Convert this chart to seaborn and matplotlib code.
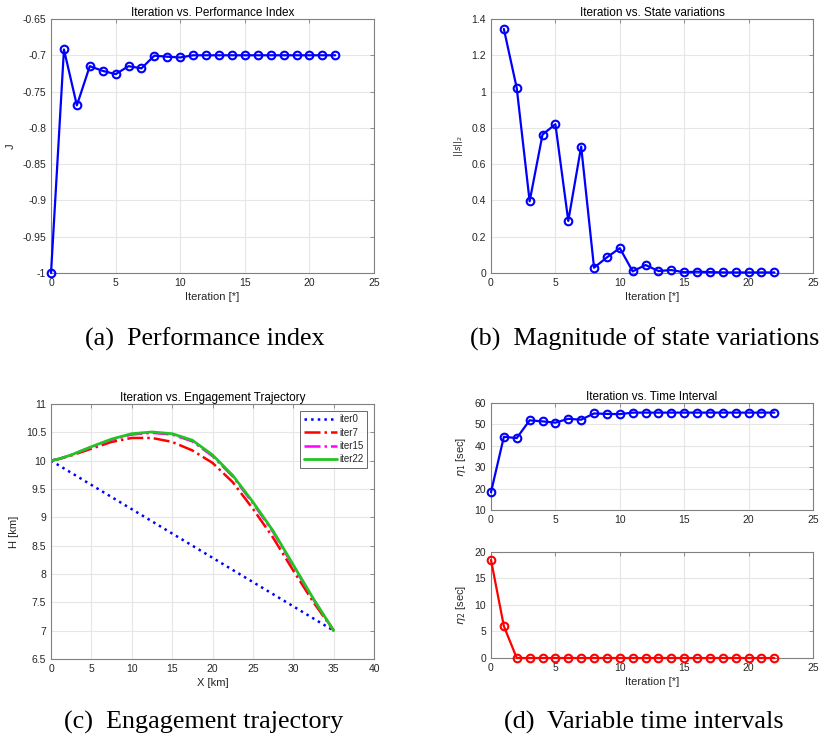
import numpy as np
import pandas as pd
import seaborn as sns
import matplotlib.pyplot as plt
from matplotlib.ticker import FuncFormatter

# ---- data ----
iters = list(range(23))
perf_J = [-1.0, -0.692, -0.769, -0.715, -0.7215, -0.726, -0.715, -0.718, -0.7005,
          -0.702, -0.703, -0.700, -0.700, -0.700, -0.700, -0.700, -0.700, -0.700,
          -0.700, -0.700, -0.700, -0.700, -0.700]

state_iters = list(range(1, 23))
state_norm = [1.345, 1.019, 0.395, 0.763, 0.820, 0.287, 0.697, 0.029, 0.086, 0.137,
              0.009, 0.044, 0.011, 0.016, 0.004, 0.007, 0.005, 0.003, 0.003, 0.003,
              0.003, 0.003]

traj_x = [0, 1, 2.5, 5, 7.5, 10, 12.5, 15, 17.5, 20, 22.5, 25, 27.5, 30, 32.5, 35]
h_iter0 = [10.0, 9.914, 9.786, 9.571, 9.357, 9.143, 8.929, 8.714, 8.5, 8.286, 8.071,
           7.857, 7.643, 7.429, 7.214, 7.0]
h_iter7 = [10.0, 10.03, 10.09, 10.21, 10.33, 10.40, 10.40, 10.33, 10.18, 9.96, 9.62,
           9.15, 8.64, 8.06, 7.50, 7.0]
h_iter15 = [10.0, 10.03, 10.10, 10.24, 10.37, 10.46, 10.49, 10.46, 10.34, 10.08, 9.72,
            9.25, 8.74, 8.14, 7.55, 7.0]
h_iter22 = [10.0, 10.03, 10.10, 10.245, 10.38, 10.475, 10.505, 10.475, 10.36, 10.10,
            9.74, 9.27, 8.76, 8.16, 7.56, 7.0]

eta1 = [18.3, 44.2, 43.6, 51.9, 51.4, 50.8, 52.6, 52.2, 55.1, 54.9, 54.8, 55.5, 55.5,
        55.5, 55.5, 55.5, 55.5, 55.5, 55.5, 55.5, 55.5, 55.5, 55.5]
eta2 = [18.5, 6.0] + [0.0] * 21

# ---- style ----
sns.set_theme(style="whitegrid")
plt.rcParams['font.family'] = ['Liberation Sans', 'DejaVu Sans']
plt.rcParams['mathtext.fontset'] = 'dejavusans'

TXT = '#262626'
fig = plt.figure(figsize=(8.19, 7.42), dpi=100)
fig.patch.set_facecolor('white')


def matlab_axes(rect):
    ax = fig.add_axes(rect)
    ax.set_facecolor('white')
    for s in ax.spines.values():
        s.set_edgecolor('#808080')
        s.set_linewidth(0.8)
    ax.grid(True, color='#e6e6e6', linewidth=0.8)
    ax.tick_params(direction='in', length=3, width=0.6, top=True, right=True,
                   labelsize=7.5, labelcolor=TXT, color='#808080', pad=3.5)
    ax.xaxis.set_major_formatter(FuncFormatter(lambda v, _: f"{v:g}"))
    ax.yaxis.set_major_formatter(FuncFormatter(lambda v, _: f"{v:g}"))
    return ax


def it_line(ax, x, y, color):
    df = pd.DataFrame({"x": x, "y": y})
    sns.lineplot(data=df, x="x", y="y", ax=ax, color=color, linewidth=1.6,
                 marker="o", markersize=5.5, markerfacecolor='none',
                 markeredgecolor=color, markeredgewidth=1.5, clip_on=False,
                 zorder=5)
    ax.set_xlabel("")
    ax.set_ylabel("")


lab = dict(fontsize=8, color=TXT)
ttl = dict(fontsize=8.5, color='black', pad=2)

# (a) performance index
ax = matlab_axes([0.0623, 0.6321, 0.3944, 0.3423])
it_line(ax, iters, perf_J, 'blue')
ax.set_xlim(0, 25)
ax.set_ylim(-1, -0.65)
ax.set_xticks(range(0, 26, 5))
ax.set_yticks(np.arange(-1, -0.64, 0.05))
ax.set_xlabel("Iteration [*]", labelpad=3, **lab)
ax.set_ylabel("J", labelpad=5, **lab)
ax.set_title("Iteration vs. Performance Index", **ttl)

# (b) state variations
ax = matlab_axes([0.5995, 0.6321, 0.3932, 0.3423])
it_line(ax, state_iters, state_norm, 'blue')
ax.set_xlim(0, 25)
ax.set_ylim(0, 1.4)
ax.set_xticks(range(0, 26, 5))
ax.set_yticks(np.arange(0, 1.41, 0.2))
ax.set_xlabel("Iteration [*]", labelpad=3, **lab)
ax.set_ylabel(r"$||s||_2$", labelpad=5, fontsize=6.5, color=TXT)
ax.set_title("Iteration vs. State variations", **ttl)

# (c) engagement trajectory
ax = matlab_axes([0.0623, 0.1119, 0.3944, 0.3437])
traj = pd.DataFrame({"x": traj_x * 4,
                     "H": h_iter0 + h_iter7 + h_iter15 + h_iter22,
                     "run": ["iter0"] * 16 + ["iter7"] * 16 + ["iter15"] * 16 + ["iter22"] * 16})
styles = {"iter0": ('blue', ':', 1.8), "iter7": ('red', '-.', 1.8),
          "iter15": ('magenta', '-.', 1.8), "iter22": ('#22c322', '-', 2.0)}
for name, (c, ls, lw) in styles.items():
    sub = traj[traj["run"] == name]
    sns.lineplot(data=sub, x="x", y="H", ax=ax, color=c, linestyle=ls,
                 linewidth=lw, label=name)
ax.set_xlim(0, 40)
ax.set_ylim(6.5, 11)
ax.set_xticks(range(0, 41, 5))
ax.set_yticks(np.arange(6.5, 11.01, 0.5))
ax.set_xlabel("X [km]", labelpad=3, **lab)
ax.set_ylabel("H [km]", labelpad=5, **lab)
ax.set_title("Iteration vs. Engagement Trajectory", **ttl)
leg = ax.legend(loc='upper right', fontsize=7, frameon=True, fancybox=False,
                handlelength=3.4, handletextpad=0.3, borderpad=0.35,
                labelspacing=0.35, borderaxespad=0.7)
leg.get_frame().set_edgecolor('#262626')
leg.get_frame().set_linewidth(0.6)
for t in leg.get_texts():
    t.set_color(TXT)

# (d) time intervals
ax = matlab_axes([0.5995, 0.3127, 0.3932, 0.1442])
it_line(ax, iters, eta1, 'blue')
ax.set_xlim(0, 25)
ax.set_ylim(10, 60)
ax.set_xticks(range(0, 26, 5))
ax.set_yticks(range(10, 61, 10))
ax.set_ylabel(r"$\eta_1$ [sec]", labelpad=5, **lab)
ax.set_title("Iteration vs. Time Interval", **ttl)

ax = matlab_axes([0.5995, 0.1132, 0.3932, 0.1429])
it_line(ax, iters, eta2, 'red')
ax.set_xlim(0, 25)
ax.set_ylim(0, 20)
ax.set_xticks(range(0, 26, 5))
ax.set_yticks(range(0, 21, 5))
ax.set_xlabel("Iteration [*]", labelpad=3, **lab)
ax.set_ylabel(r"$\eta_2$ [sec]", labelpad=5, **lab)

# sub-captions
cap = dict(fontsize=18.8, family='Liberation Serif', color='black', va='center')
fig.text(205 / 819, 1 - 339 / 742, "(a)  Performance index", ha='center', **cap)
fig.text(470 / 819, 1 - 339 / 742, "(b)  Magnitude of state variations", ha='left', **cap)
fig.text(204 / 819, 1 - 722 / 742, "(c)  Engagement trajectory", ha='center', **cap)
fig.text(644 / 819, 1 - 722 / 742, "(d)  Variable time intervals", ha='center', **cap)

fig.savefig("out.png", dpi=100, facecolor='white')
